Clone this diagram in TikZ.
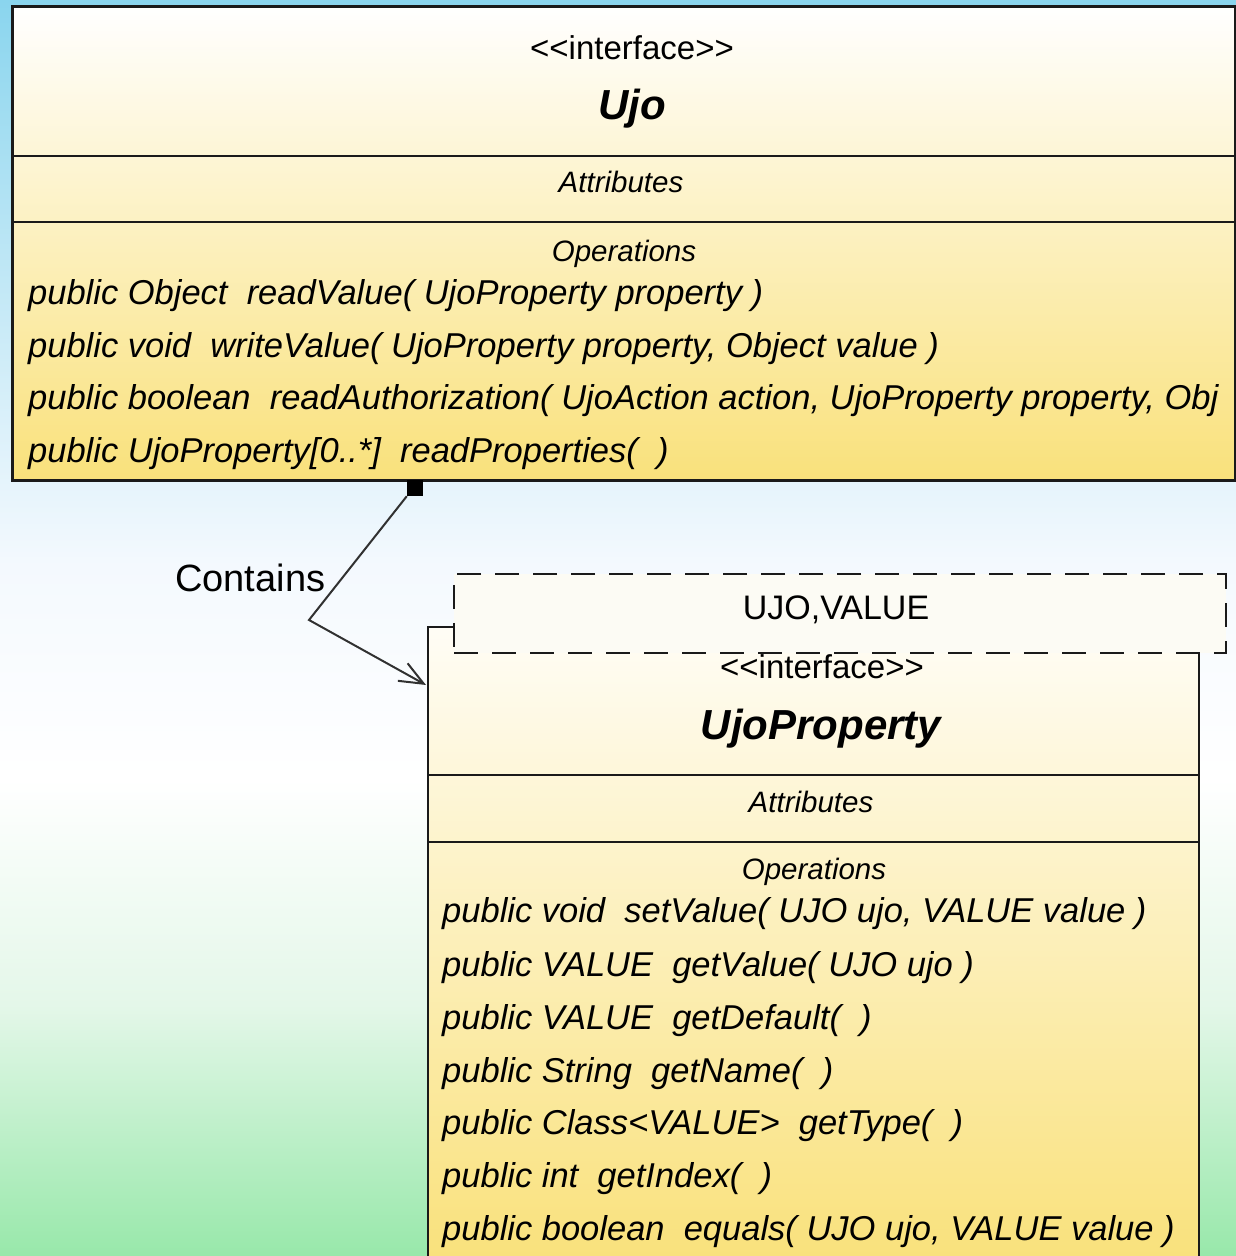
\documentclass[tikz,border=0pt]{standalone}
\usepackage{fontspec}
\setmainfont{Liberation Sans}[Ligatures=TeXOff]
\usetikzlibrary{arrows.meta,calc}
\definecolor{bgA}{HTML}{98E8AA}
\definecolor{bgB}{HTML}{E4F7E9}
\definecolor{bgC}{HTML}{FFFFFF}
\definecolor{bgD}{HTML}{F4F9FE}
\definecolor{bgE}{HTML}{BCE6F5}
\definecolor{bgF}{HTML}{8AD5EE}
\definecolor{boxyellow}{HTML}{F9E17B}
\definecolor{boxtop}{HTML}{FFFFFF}
\definecolor{proptop}{HTML}{FFFDF6}
\definecolor{tplfill}{HTML}{FCFBF4}
\definecolor{linec}{HTML}{1A1A1A}
\pgfdeclareverticalshading{bgshade}{100bp}{color(0bp)=(bgA); color(25bp)=(bgA); color(35bp)=(bgB); color(44bp)=(bgC); color(52.5bp)=(bgD); color(65bp)=(bgE); color(75bp)=(bgF); color(100bp)=(bgF)}
\tikzset{
  umlbox/.style={draw=linec, line width=2pt, inner sep=0pt, anchor=north west},
  divider/.style={draw=linec, line width=2pt},
  tplbox/.style={draw=linec, line width=2pt, dash pattern=on 24pt off 14pt, fill=tplfill, inner sep=0pt, anchor=north west},
  stereo/.style={inner sep=0pt, anchor=base, font=\fontsize{33}{40}\selectfont},
  ctitle/.style={inner sep=0pt, anchor=base, font=\fontsize{42}{50}\selectfont\bfseries\itshape},
  section/.style={inner sep=0pt, anchor=base, font=\fontsize{29.5}{36}\selectfont\itshape},
  op/.style={inner sep=0pt, anchor=base west, font=\fontsize{34.5}{42}\selectfont\itshape},
  conn/.style={draw=linec!90, line width=2pt},
}
\begin{document}
\begin{tikzpicture}[x=1pt,y=1pt]
\useasboundingbox (0,0) rectangle (1236,1256);
\shade[shading=bgshade] (0,0) rectangle (1236,1256);

% ---------- Ujo ----------
\node[umlbox, top color=boxtop, bottom color=boxyellow, minimum width=1222pt, minimum height=473pt] (ujo) at (12,1250) {};
\draw[divider] (ujo.west |- 0,1100) -- (ujo.east |- 0,1100);
\draw[divider] (ujo.west |- 0,1034) -- (ujo.east |- 0,1034);
\node[stereo] (ujoSt) at (632,1196) {<<interface>>};
\node[ctitle] (ujoName) at (632,1136) {Ujo};
\node[section] (ujoAttr) at (621,1063) {Attributes};
\node[section] (ujoOps) at (624,994) {Operations};
\begin{scope}
\clip (ujo.south west) rectangle (ujo.north east);
\node[op] (uo1) at (28,951) {public Object\ \ readValue( UjoProperty property )};
\node[op] (uo2) at (28,898) {public void\ \ writeValue( UjoProperty property, Object value )};
\node[op] (uo3) at (28,846) {public boolean\ \ readAuthorization( UjoAction action, UjoProperty property, Obj};
\node[op] (uo4) at (28,793) {public UjoProperty[0..*]\ \ readProperties(\ \ )};
\end{scope}
\draw[divider] (ujo.south west) rectangle (ujo.north east);

% ---------- UjoProperty ----------
\node[umlbox, top color=proptop, bottom color=boxyellow, minimum width=771pt, minimum height=636pt] (prop) at (427,630) {};
\draw[divider] (prop.west |- 0,481) -- (prop.east |- 0,481);
\draw[divider] (prop.west |- 0,414) -- (prop.east |- 0,414);
\node[tplbox, minimum width=772pt, minimum height=79pt] (tpl) at (453,683) {};
\node[inner sep=0pt, anchor=base, font=\fontsize{34}{40}\selectfont] (tplText) at (836,636) {UJO,VALUE};
\node[stereo] (propSt) at (822,577) {<<interface>>};
\node[ctitle] (propName) at (821,516) {UjoProperty};
\node[section] (propAttr) at (811,443) {Attributes};
\node[section] (propOps) at (814,376) {Operations};
\node[op] (po1) at (442,333) {public void\ \ setValue( UJO ujo,\ VALUE value )};
\node[op] (po2) at (442,279) {public VALUE\ \ getValue( UJO ujo )};
\node[op] (po3) at (442,226) {public VALUE\ \ getDefault(\ \ )};
\node[op] (po4) at (442,173) {public String\ \ getName(\ \ )};
\node[op] (po5) at (442,121) {public Class<VALUE>\ \ getType(\ \ )};
\node[op] (po6) at (442,68) {public int\ \ getIndex(\ \ )};
\node[op] (po7) at (442,15) {public boolean\ \ equals( UJO ujo,\ VALUE value )};

% ---------- connector ----------
\node[fill=black, minimum size=16pt, inner sep=0pt] (dia) at (415,768) {};
\coordinate (bend) at (309,636);
\coordinate (tip) at (426,571);
\draw[conn, -{Straight Barb[length=24pt, width=20pt, line width=2pt]}] (dia.south west) -- (bend) -- (tip);
\node[inner sep=0pt, anchor=base west, font=\fontsize{38}{44}\selectfont] (contains) at (175,664) {Contains};
\end{tikzpicture}
\end{document}
